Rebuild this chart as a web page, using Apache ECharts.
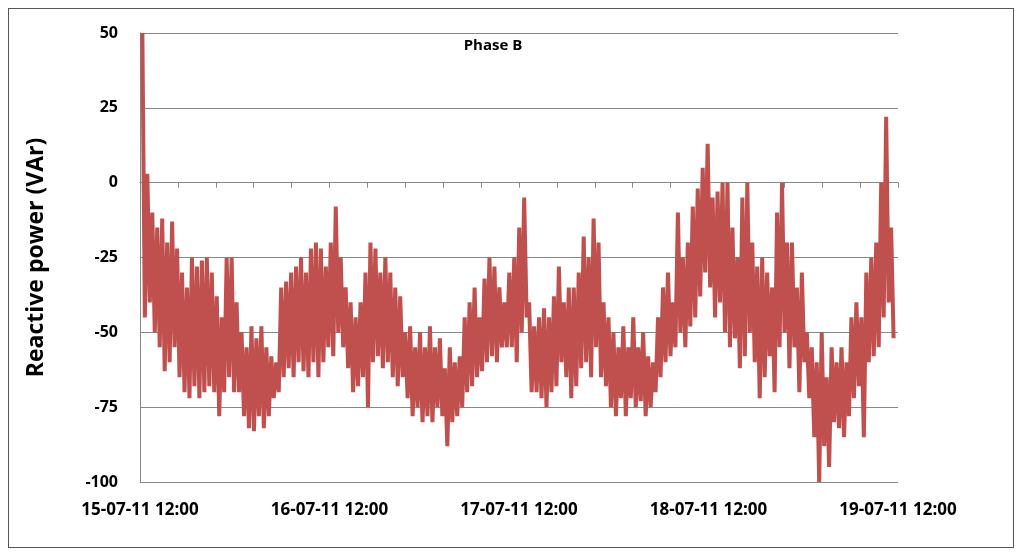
<!DOCTYPE html>
<html><head><meta charset="utf-8">
<script src="https://cdn.jsdelivr.net/npm/echarts@6/dist/echarts.min.js"></script>
<style>html,body{margin:0;padding:0;background:#fff}#c{width:1024px;height:558px}
#f{position:absolute;left:8px;top:8px;width:1006px;height:540px;border:1px solid #555;box-sizing:border-box;pointer-events:none}</style>
</head><body><div id="c"></div><div id="f"></div>
<script>
const tickLabels = ['15-07-11 12:00','16-07-11 12:00','17-07-11 12:00','18-07-11 12:00','19-07-11 12:00'];
const startHour = 0.3, stepHour = 0.628;
const tops = [50,3,-10,-15,-12,-20,-13,-22,-30,-35,-25,-28,-26,-25,-30,-38,-45,-25,-25,-40,-50,-55,-48,-52,-48,-55,-58,-60,-35,-33,-30,-28,-25,-30,-22,-20,-22,-28,-20,-8,-25,-35,-40,-45,-40,-30,-20,-22,-30,-25,-30,-35,-38,-50,-48,-55,-50,-55,-48,-55,-52,-62,-55,-60,-58,-45,-40,-35,-45,-32,-25,-28,-35,-40,-30,-25,-15,-5,-40,-48,-45,-42,-45,-38,-28,-40,-35,-35,-30,-18,-25,-12,-20,-40,-45,-50,-55,-48,-55,-45,-55,-50,-58,-60,-45,-35,-30,-40,-10,-25,-20,-8,-2,5,13,-5,-3,0,0,-15,-25,-5,0,-20,-28,-25,-30,-35,-10,0,-20,-20,-35,-30,-50,-55,-60,-50,-65,-55,-60,-55,-60,-45,-40,-45,-30,-25,-20,0,22,-15];
const bottoms = [-45,-40,-50,-55,-63,-60,-55,-65,-70,-72,-68,-72,-70,-68,-70,-78,-70,-65,-70,-70,-78,-82,-83,-78,-82,-78,-72,-70,-65,-62,-65,-60,-63,-65,-60,-65,-60,-55,-58,-50,-55,-62,-70,-68,-65,-75,-60,-58,-62,-60,-65,-68,-65,-72,-78,-75,-80,-78,-80,-75,-78,-88,-80,-78,-75,-70,-68,-65,-63,-60,-58,-60,-55,-55,-55,-60,-50,-45,-70,-70,-72,-75,-70,-68,-60,-65,-72,-68,-62,-60,-65,-55,-65,-68,-75,-78,-72,-78,-72,-75,-73,-78,-75,-70,-65,-60,-58,-55,-50,-55,-48,-45,-38,-30,-35,-45,-40,-50,-55,-52,-62,-58,-50,-60,-72,-65,-58,-70,-55,-50,-62,-55,-70,-60,-72,-85,-100,-88,-95,-80,-82,-85,-78,-72,-68,-85,-60,-58,-55,-45,-40,-52];
const pts = [];
for (let i = 0; i < tops.length; i++) {
  const t = startHour + i * stepHour;
  pts.push([t, tops[i]]);
  pts.push([t + stepHour / 2, bottoms[i]]);
}
const chart = echarts.init(document.getElementById('c'));
const bold = {fontFamily:'Open Sans, DejaVu Sans, sans-serif', fontWeight:'bold', color:'#000'};
chart.setOption({
  animation:false,
  title:{text:'Phase B', left:488, top:33, textAlign:'center', textStyle:Object.assign({fontSize:15},bold)},
  grid:{left:140, right:126, top:33, bottom:76},
  xAxis:[
    {type:'value', min:0, max:96, interval:4.8, axisLine:{onZero:true, lineStyle:{color:'#888'}},
     axisTick:{show:true, length:5, inside:false, lineStyle:{color:'#888'}}, axisLabel:{show:false}, splitLine:{show:false}},
    {type:'value', min:0, max:96, interval:24, position:'bottom', axisLine:{show:false}, axisTick:{show:false}, splitLine:{show:false},
     axisLabel:Object.assign({fontSize:17, margin:20, formatter:v=>tickLabels[Math.round(v/24)]||''},bold)}
  ],
  yAxis:{type:'value', min:-100, max:50, interval:25, name:'Reactive power (VAr)', nameLocation:'middle', nameGap:92,
    nameTextStyle:Object.assign({fontSize:23},bold),
    axisLine:{show:true, lineStyle:{color:'#888'}}, axisTick:{show:false},
    axisLabel:Object.assign({fontSize:16, margin:22},bold),
    splitLine:{lineStyle:{color:'#888', width:1}}},
  series:[{type:'line', xAxisIndex:0, data:pts, showSymbol:false, lineStyle:{color:'#c0504d', width:4}}]
});
</script></body></html>
